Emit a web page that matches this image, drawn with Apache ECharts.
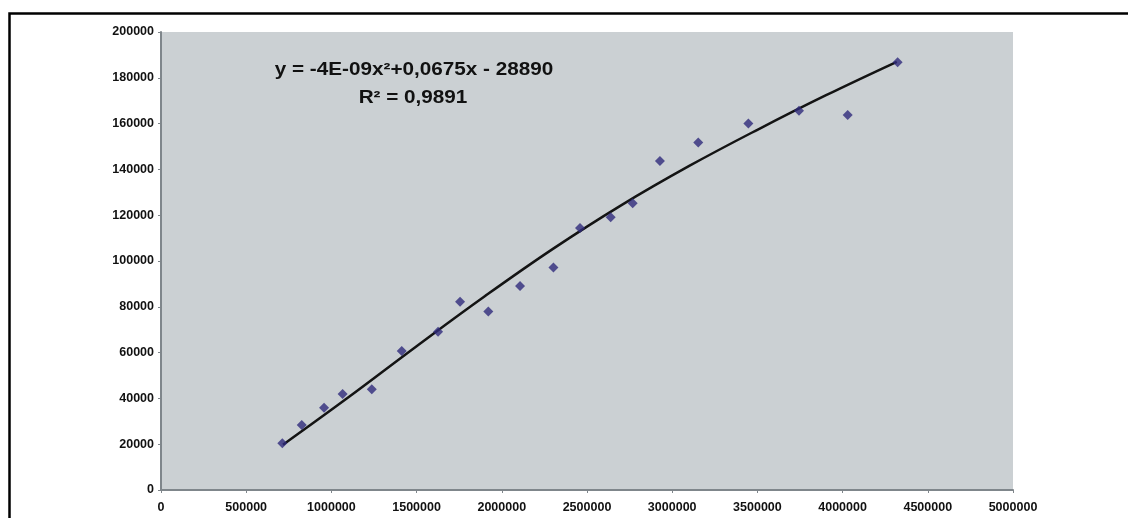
<!DOCTYPE html>
<html>
<head>
<meta charset="utf-8">
<script src="https://cdn.jsdelivr.net/npm/echarts@6/dist/echarts.min.js"></script>
<style>
html,body{margin:0;padding:0;background:#fff;}
#chart{width:1128px;height:518px;}
</style>
</head>
<body>
<div id="chart"></div>
<script>
// Observed data points (x, y)
const xValues = [712000, 826000, 957000, 1066000, 1237000, 1413000, 1626000, 1755000, 1921000, 2107000,
                 2303000, 2459000, 2639000, 2768000, 2928000, 3153000, 3447000, 3744000, 4030000, 4323000];
const yValues = [20400, 28400, 35900, 41900, 44000, 60700, 69100, 82200, 77900, 89100,
                 97200, 114400, 119100, 125200, 143700, 151800, 160000, 165600, 163800, 186800];

// Trend line
const trendX = [716000, 1100000, 1500000, 1900000, 2300000, 2700000, 3100000, 3500000, 3900000, 4318000];
const trendY = [19800, 40500, 62800, 84600, 105300, 124300, 141500, 157300, 172300, 187000];

const xTicks = [0, 500000, 1000000, 1500000, 2000000, 2500000, 3000000, 3500000, 4000000, 4500000, 5000000];
const yTicks = [0, 20000, 40000, 60000, 80000, 100000, 120000, 140000, 160000, 180000, 200000];

const equationText = 'y = -4E-09x²+0,0675x - 28890';
const r2Text = 'R² = 0,9891';

const chart = echarts.init(document.getElementById('chart'), null, {renderer: 'canvas'});
const font = '"Liberation Sans", Arial, Helvetica, sans-serif';
const labelStyle = {color: '#111', fontWeight: 'bold', fontSize: 12.5, fontFamily: font};

chart.setOption({
  animation: false,
  backgroundColor: '#ffffff',
  grid: {left: 161, top: 32, right: 115, bottom: 28, show: true, backgroundColor: '#cbd0d3', borderWidth: 0},
  xAxis: {
    type: 'value', min: xTicks[0], max: xTicks[xTicks.length - 1], interval: 500000,
    axisLine: {show: true, onZero: false, lineStyle: {color: '#7f868b', width: 2}},
    axisTick: {show: true, length: 3, lineStyle: {color: '#7f868b'}},
    splitLine: {show: false},
    axisLabel: Object.assign({margin: 11, formatter: v => String(v)}, labelStyle)
  },
  yAxis: {
    type: 'value', min: yTicks[0], max: yTicks[yTicks.length - 1], interval: 20000,
    axisLine: {show: true, onZero: false, lineStyle: {color: '#7f868b', width: 2}},
    axisTick: {show: true, length: 3, lineStyle: {color: '#7f868b'}},
    splitLine: {show: false},
    axisLabel: Object.assign({margin: 7, formatter: v => String(v)}, labelStyle)
  },
  series: [
    {
      type: 'line',
      data: trendX.map((x, i) => [x, trendY[i]]),
      showSymbol: false,
      smooth: 0.4,
      lineStyle: {color: '#141414', width: 2.5},
      z: 2
    },
    {
      type: 'scatter',
      data: xValues.map((x, i) => [x, yValues[i]]),
      symbol: 'diamond',
      symbolSize: [10, 10],
      itemStyle: {color: '#302b7c'},
      z: 3
    }
  ],
  graphic: [
    {
      type: 'rect', left: 7, top: 11, z: 100, silent: true,
      shape: {x: 0, y: 0, width: 1200, height: 600},
      style: {fill: null, stroke: '#000', lineWidth: 2.5}
    },
    {
      type: 'text', x: 414, y: 70, z: 50, scaleX: 1.15,
      style: {text: equationText, fill: '#111', font: 'bold 18px ' + font, textAlign: 'center', textVerticalAlign: 'middle'}
    },
    {
      type: 'text', x: 413, y: 98, z: 50, scaleX: 1.15,
      style: {text: r2Text, fill: '#111', font: 'bold 18px ' + font, textAlign: 'center', textVerticalAlign: 'middle'}
    }
  ]
});
</script>
</body>
</html>
